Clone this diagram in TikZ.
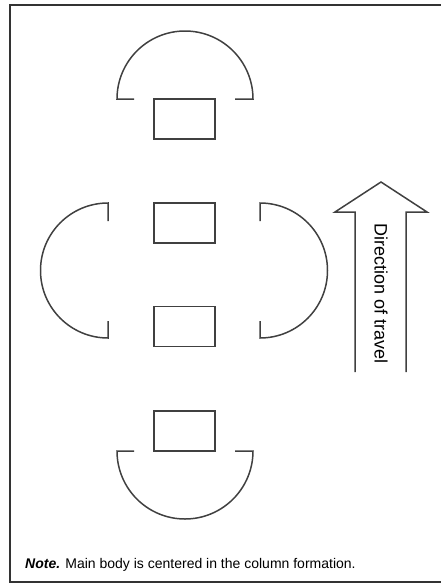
\documentclass[tikz,border=0pt]{standalone}
\usepackage{fontspec}
\setmainfont{Liberation Sans}
\usepackage{tikz}

\tikzset{
	outline/.style={draw=black!75, line width=1.5pt},
	car/.style={outline, rectangle, minimum width=61pt, minimum height=40pt, inner sep=0pt},
	guard/.style={outline, line join=miter}
}

\begin{document}
\begin{tikzpicture}[x=1pt, y=-1pt]
		\useasboundingbox (0,0) rectangle (441,584);
		% frame (right side runs off the page)
		\draw[draw=black!80, line width=1.6pt] (445,5) -- (10,5) -- (10,582) -- (445,582);
		
		% column of vehicles
		\node[car] (front) at (184.5,119) {};
		\node[car] (midA) at (184.5,223) {};
		\node[car] (midB) at (184.5,326.5) {};
		\node[car] (rear) at (184.5,431) {};
		
		% guards around the column
		\draw[guard] (134,99) -- (117,99) arc[start angle=180, end angle=0, radius=68pt] -- (235,99);
		\draw[guard] (134,451) -- (117,451) arc[start angle=180, end angle=360, radius=68pt] -- (235,451);
		\draw[guard] (108,221) -- (108,203) arc[start angle=90, end angle=270, radius=67.5pt] -- (108,321);
		\draw[guard] (260,221) -- (260,203) arc[start angle=90, end angle=-90, radius=67.5pt] -- (260,321);
		
		% travel arrow
		\draw[outline, line join=miter] (355,372) -- (355,212) -- (335,212) -- (381,182) -- (427,212) -- (406,212) -- (406,372);
		\node[rotate=-90, font=\fontsize{18}{20}\selectfont] (dir) at (381,293.5) {Direction of travel};
		
		\node[anchor=base west, inner sep=0pt, font=\fontsize{14}{16}\selectfont] (note) at (25,568) {\textbf{\textit{Note.}} Main body is centered in the column formation.};
	\end{tikzpicture}
\end{document}
